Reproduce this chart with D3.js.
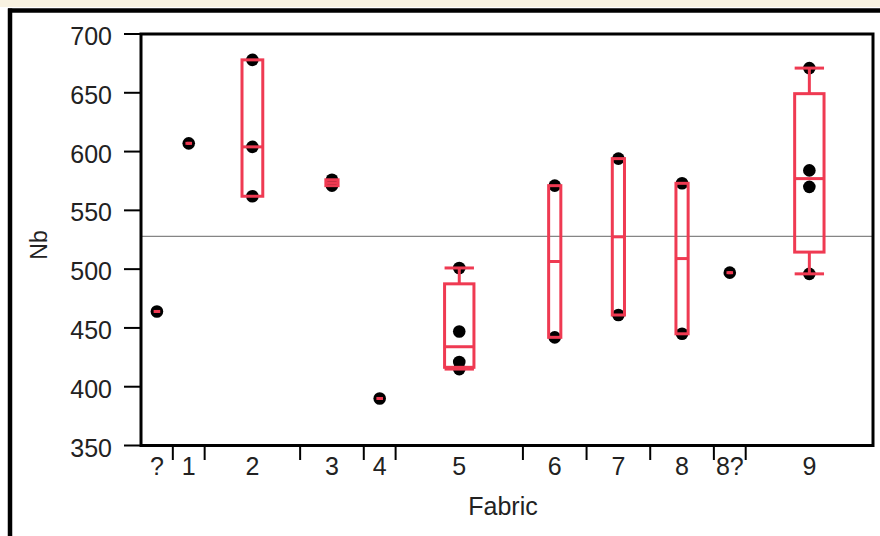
<!DOCTYPE html>
<html>
<head>
<meta charset="utf-8">
<script src="https://cdn.jsdelivr.net/npm/d3@7"></script>
<style>
  html, body { margin: 0; padding: 0; background: #fff; }
  svg { display: block; font-family: "Liberation Sans", Arial, sans-serif; }
</style>
</head>
<body>
<svg id="chart" width="880" height="536"></svg>
<script>
// ---- data ----
const categories = ["?", "1", "2", "3", "4", "5", "6", "7", "8", "8?", "9"];
const nbValues = [
  [464],
  [607],
  [678, 604, 562],
  [576, 571],
  [390],
  [501, 447, 421, 415],
  [571, 442],
  [594, 461],
  [573, 445],
  [497],
  [671, 584, 570, 496]
];
const yTicks = [350, 400, 450, 500, 550, 600, 650, 700];
const xTitle = "Fabric";
const yTitle = "Nb";

// ---- layout ----
const W = 880, H = 536;
const plot = { left: 141, top: 34, right: 873, bottom: 445.5 };
const red = "#ef3a52";

const svg = d3.select("#chart");

// outer window decoration
svg.append("rect").attr("x", 0).attr("y", 0).attr("width", W).attr("height", 7).attr("fill", "#f8f2e1");
svg.append("line").attr("x1", 8).attr("x2", W).attr("y1", 10.5).attr("y2", 10.5)
  .attr("stroke", "#000").attr("stroke-width", 4.5);
svg.append("line").attr("x1", 10).attr("x2", 10).attr("y1", 8.5).attr("y2", H)
  .attr("stroke", "#000").attr("stroke-width", 4.5);

// scales
const counts = nbValues.map(v => v.length);
const cum = [0];
counts.forEach(c => cum.push(cum[cum.length - 1] + c));
const total = cum[cum.length - 1];
const x = d3.scaleLinear().domain([0, total]).range([plot.left, plot.right]);
const y = d3.scaleLinear().domain([350, 700]).range([plot.bottom, plot.top]);

const groups = categories.map((c, i) => {
  const vals = nbValues[i].slice().sort((a, b) => a - b);
  const n = vals.length;
  const q = p => {
    let pos = p * (n + 1);
    if (pos <= 1) return vals[0];
    if (pos >= n) return vals[n - 1];
    const lo = Math.floor(pos), f = pos - lo;
    return vals[lo - 1] + f * (vals[lo] - vals[lo - 1]);
  };
  const q1 = q(0.25), med = d3.median(vals), q3 = q(0.75);
  const iqr = q3 - q1;
  const hiW = d3.max(vals.filter(v => v <= q3 + 1.5 * iqr));
  const loW = d3.min(vals.filter(v => v >= q1 - 1.5 * iqr));
  const x0 = x(cum[i]), x1 = x(cum[i + 1]);
  const bw = x1 - x0;
  return { c, vals, q1, med, q3, hiW, loW, x0, x1, cx: (x0 + x1) / 2, boxW: bw * 0.27 - 5 };
});

// grand mean line
const allVals = nbValues.flat();
const grandMean = d3.mean(allVals);
svg.append("line")
  .attr("x1", plot.left).attr("x2", plot.right)
  .attr("y1", y(grandMean)).attr("y2", y(grandMean))
  .attr("stroke", "#858585").attr("stroke-width", 1.2);

// points
const gPts = svg.append("g");
groups.forEach(g => {
  gPts.selectAll(null).data(g.vals).enter().append("circle")
    .attr("cx", g.cx).attr("cy", d => y(d)).attr("r", 6.3).attr("fill", "#000");
});

// boxes
const gBox = svg.append("g").attr("stroke", red).attr("stroke-width", 3).attr("fill", "none");
groups.forEach(g => {
  const bx = g.cx - g.boxW / 2;
  // whiskers
  if (g.hiW > g.q3) {
    gBox.append("line").attr("x1", g.cx).attr("x2", g.cx).attr("y1", y(g.q3)).attr("y2", y(g.hiW));
    gBox.append("line").attr("x1", bx).attr("x2", bx + g.boxW).attr("y1", y(g.hiW)).attr("y2", y(g.hiW));
  }
  if (g.loW < g.q1) {
    gBox.append("line").attr("x1", g.cx).attr("x2", g.cx).attr("y1", y(g.q1)).attr("y2", y(g.loW));
    gBox.append("line").attr("x1", bx).attr("x2", bx + g.boxW).attr("y1", y(g.loW)).attr("y2", y(g.loW));
  }
  gBox.append("rect")
    .attr("x", bx).attr("width", g.boxW)
    .attr("y", y(g.q3)).attr("height", Math.max(0.01, y(g.q1) - y(g.q3)));
  gBox.append("line").attr("x1", bx).attr("x2", bx + g.boxW).attr("y1", y(g.med)).attr("y2", y(g.med));
});

// y axis ticks and labels
const yAxis = svg.append("g");
yAxis.selectAll("line.tick").data(yTicks).enter().append("line")
  .attr("x1", 124).attr("x2", plot.left).attr("y1", d => y(d)).attr("y2", d => y(d))
  .attr("stroke", "#000").attr("stroke-width", 2);
yAxis.selectAll("text").data(yTicks).enter().append("text")
  .attr("x", 112).attr("y", d => y(d) + 11).attr("text-anchor", "end")
  .attr("font-size", 25).attr("fill", "#222").text(d => d);

// x axis: separators and labels
const xAxis = svg.append("g");
xAxis.selectAll("line").data(cum.slice(1, -1)).enter().append("line")
  .attr("x1", d => x(d)).attr("x2", d => x(d)).attr("y1", plot.bottom).attr("y2", 460)
  .attr("stroke", "#000").attr("stroke-width", 2);
xAxis.selectAll("text").data(groups).enter().append("text")
  .attr("x", d => d.cx).attr("y", 475).attr("text-anchor", "middle")
  .attr("font-size", 25).attr("fill", "#222").text(d => d.c);

// plot frame
svg.append("rect")
  .attr("x", plot.left).attr("y", plot.top)
  .attr("width", plot.right - plot.left).attr("height", plot.bottom - plot.top)
  .attr("fill", "none").attr("stroke", "#000").attr("stroke-width", 3);

// titles
svg.append("text").attr("x", (plot.left + plot.right) / 2 - 4).attr("y", 515)
  .attr("text-anchor", "middle").attr("font-size", 25).attr("fill", "#222").text(xTitle);
svg.append("text").attr("transform", "translate(47,245) rotate(-90)")
  .attr("text-anchor", "middle").attr("font-size", 23).attr("fill", "#222").text(yTitle);
</script>
</body>
</html>
